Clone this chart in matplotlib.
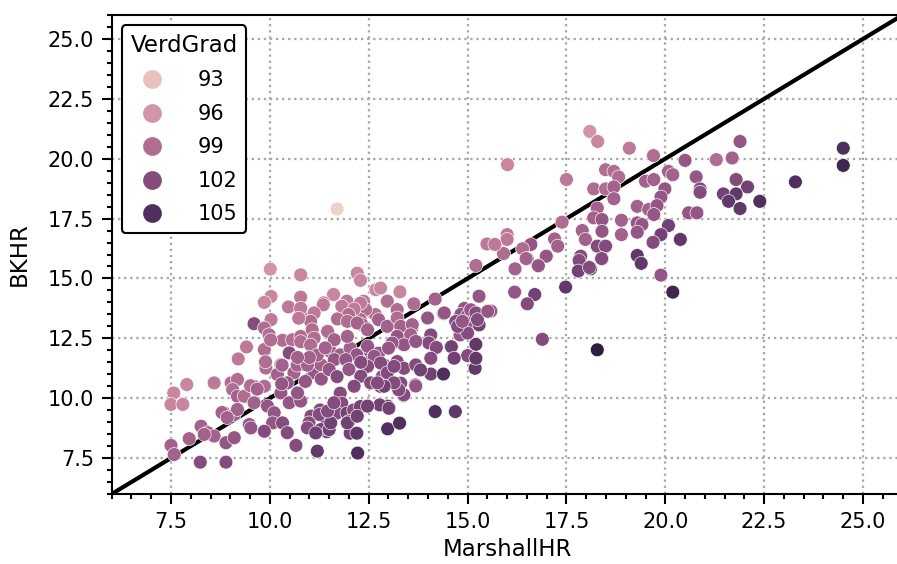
import numpy as np
import matplotlib
matplotlib.use("Agg")
import matplotlib.pyplot as plt
from matplotlib.lines import Line2D
from matplotlib.ticker import MultipleLocator, AutoMinorLocator
import seaborn as sns

# points: (MarshallHR, BKHR, VerdGrad)
pts = [
    (11.7, 17.9, 92),
    (18.09, 21.14, 96), (18.29, 20.72, 97), (19.09, 20.44, 98), (16.01, 19.75, 97), (19.70, 20.13, 99),
    (21.89, 20.72, 101), (21.29, 19.96, 99), (21.69, 20.03, 100), (20.50, 19.93, 101), (17.50, 19.13, 98),
    (18.49, 19.54, 99), (18.70, 19.47, 99), (18.82, 19.24, 99), (18.19, 18.74, 99), (18.49, 18.74, 99),
    (18.70, 18.82, 100), (18.70, 18.33, 100), (20.08, 19.47, 100), (20.19, 19.33, 100), (19.50, 19.06, 100),
    (19.71, 19.13, 100), (20.78, 19.24, 101), (19.99, 18.74, 101), (19.89, 18.40, 101), (20.88, 18.74, 102),
    (20.88, 18.60, 102), (21.79, 19.13, 102), (22.08, 18.82, 103), (21.47, 18.53, 103), (21.79, 18.53, 104),
    (21.60, 18.22, 104), (21.89, 17.92, 104), (22.39, 18.22, 105), (23.29, 19.03, 105), (24.50, 20.44, 105),
    (24.50, 19.72, 106), (19.29, 18.01, 100), (19.58, 17.88, 100), (19.79, 18.04, 101), (19.71, 17.67, 101),
    (20.59, 17.74, 101), (20.80, 17.74, 101), (19.29, 17.32, 101), (19.41, 17.25, 101), (19.29, 16.93, 101),
    (18.89, 17.43, 100), (18.89, 16.83, 100), (20.08, 17.21, 103), (19.89, 16.83, 103), (20.38, 16.63, 104),
    (19.69, 16.51, 102), (19.29, 15.96, 104), (19.39, 15.63, 104), (19.89, 15.14, 101), (20.19, 14.43, 106),
    (18.28, 17.94, 100), (18.19, 17.53, 100), (18.40, 17.46, 101), (18.40, 16.97, 101), (17.90, 17.00, 100),
    (17.98, 16.63, 100), (18.28, 16.35, 102), (18.49, 16.35, 102), (18.40, 15.82, 102), (17.86, 15.93, 102),
    (17.82, 15.75, 102), (17.80, 15.31, 103), (18.11, 15.40, 103), (17.39, 17.35, 99), (17.20, 16.65, 100),
    (17.28, 16.35, 100), (16.99, 15.93, 101), (16.78, 15.54, 101), (16.60, 16.42, 101), (16.39, 16.24, 99),
    (16.51, 15.82, 100), (15.91, 16.04, 99), (16.00, 16.83, 98), (16.00, 16.63, 98), (15.49, 16.44, 98),
    (15.69, 16.42, 98), (15.21, 15.54, 99), (16.20, 15.40, 100), (16.19, 14.43, 101), (16.70, 14.33, 103),
    (16.51, 13.94, 102), (17.48, 14.64, 104), (15.59, 13.64, 101), (15.29, 14.26, 101), (16.89, 12.46, 102),
    (18.28, 12.02, 107), (15.21, 12.25, 104), (16.48, 15.83, 100), (16.79, 15.53, 101), (18.08, 15.46, 102),
    (18.39, 15.83, 102),
    (14.92, 13.75, 101), (14.83, 13.50, 101), (14.70, 13.20, 102), (14.90, 13.10, 101), (15.08, 13.15, 102),
    (15.00, 13.45, 101), (15.29, 13.06, 103), (15.00, 11.78, 102), (15.19, 11.25, 104), (14.81, 12.64, 101),
    (14.59, 12.15, 103), (14.18, 14.14, 100), (14.39, 13.54, 102), (13.99, 13.35, 101), (13.59, 12.93, 101),
    (14.07, 12.64, 102), (14.02, 12.31, 102), (14.21, 12.12, 102), (14.07, 11.67, 102), (14.07, 11.01, 103),
    (14.39, 11.01, 105), (13.68, 10.56, 102), (14.18, 9.44, 105), (14.69, 9.44, 104), (12.98, 8.72, 105),
    (13.28, 8.96, 105), (12.98, 9.67, 103), (13.38, 10.11, 102), (15.08, 13.69, 101), (15.21, 13.56, 102),
    (15.00, 12.72, 102),
    (13.29, 14.44, 97), (12.97, 14.05, 99), (13.22, 13.70, 99), (13.64, 13.94, 99), (12.67, 13.49, 99),
    (12.75, 13.28, 100), (12.97, 13.00, 100), (13.22, 13.35, 99), (13.31, 13.00, 100), (12.37, 14.05, 98),
    (12.42, 13.70, 99), (12.29, 13.28, 99), (12.33, 13.07, 100), (11.95, 14.05, 98), (11.82, 13.84, 98),
    (11.61, 14.33, 97), (11.36, 13.98, 98), (14.41, 13.56, 101), (13.60, 13.07, 100), (13.56, 12.65, 100),
    (13.22, 12.58, 101), (13.39, 12.23, 101), (13.09, 12.30, 101), (13.69, 12.37, 101), (14.75, 13.00, 102),
    (14.87, 13.21, 101), (15.25, 13.28, 102), (15.51, 13.63, 101), (14.66, 11.67, 103), (15.21, 11.67, 104),
    (11.53, 11.95, 100), (11.78, 11.81, 100), (12.03, 12.09, 100), (12.20, 11.81, 101), (12.54, 11.95, 101),
    (12.75, 11.88, 101), (13.00, 12.09, 101), (12.54, 11.53, 102), (12.88, 11.39, 102), (13.22, 11.53, 102),
    (13.39, 11.25, 102), (13.69, 11.39, 102), (13.81, 11.18, 103),
    (13.69, 10.51, 101), (13.39, 10.14, 102), (13.31, 10.63, 102), (13.26, 10.35, 102), (12.80, 10.49, 102),
    (12.84, 10.90, 101), (13.01, 10.69, 102), (12.78, 9.72, 103), (13.01, 9.58, 103), (12.22, 7.71, 105),
    (11.78, 10.21, 102), (11.82, 9.79, 102), (11.69, 9.38, 102), (11.95, 9.38, 103), (12.12, 9.51, 102),
    (12.29, 9.65, 103), (12.00, 9.03, 103), (12.03, 8.54, 103), (12.20, 8.54, 104), (11.44, 9.10, 103),
    (11.44, 8.60, 103), (11.27, 9.51, 102), (11.20, 7.79, 104),
    (10.01, 15.39, 96), (10.78, 15.15, 97), (12.21, 15.22, 97), (12.29, 14.92, 97), (10.03, 14.25, 97),
    (9.86, 14.00, 97), (10.47, 13.81, 98), (10.78, 14.22, 98), (10.78, 13.56, 98), (11.35, 13.90, 98),
    (12.29, 13.97, 98), (12.13, 13.72, 98), (11.99, 13.49, 99), (12.68, 14.53, 97), (12.80, 14.60, 97),
    (9.60, 13.11, 102), (10.03, 13.28, 98), (9.86, 12.93, 99), (9.98, 12.65, 99), (10.32, 12.42, 99),
    (10.57, 12.44, 99), (10.78, 12.58, 99), (11.12, 13.56, 98), (11.03, 13.21, 99), (11.07, 12.86, 99),
    (11.12, 12.51, 99), (11.71, 13.31, 99), (11.46, 12.79, 99), (11.63, 12.44, 100), (11.96, 12.58, 100),
    (11.96, 13.21, 99), (12.21, 13.14, 100), (12.47, 12.86, 100), (9.41, 12.14, 98), (9.20, 11.64, 98),
    (9.86, 12.03, 99), (9.90, 11.26, 99), (10.49, 11.89, 102), (10.28, 11.40, 100), (10.19, 10.99, 100),
    (10.61, 11.06, 100), (10.44, 10.64, 101), (10.86, 11.40, 100), (11.12, 11.06, 101), (11.29, 11.40, 100),
    (11.63, 11.61, 101), (11.92, 11.61, 101), (12.47, 12.17, 101), (12.64, 11.75, 101), (12.80, 11.47, 102),
    (12.47, 11.33, 102), (12.30, 10.92, 102), (12.13, 10.50, 102), (12.55, 10.64, 102), (12.97, 11.06, 102),
    (13.14, 11.33, 102), (13.14, 10.64, 102), (12.89, 10.50, 103),
    (7.90, 10.57, 97), (7.57, 10.22, 97), (7.50, 9.74, 97), (7.80, 9.74, 97), (8.59, 10.64, 98),
    (9.02, 10.64, 99), (9.18, 10.78, 99), (9.06, 10.36, 99), (9.18, 10.08, 100), (9.35, 10.08, 99),
    (8.84, 9.39, 100), (9.10, 9.32, 100), (9.18, 9.53, 100), (9.60, 10.50, 99), (9.86, 10.50, 99),
    (9.60, 9.81, 100), (9.48, 8.90, 101), (9.52, 8.76, 101), (9.94, 9.67, 101), (10.11, 9.39, 101),
    (10.07, 8.97, 101), (10.28, 10.22, 101), (10.49, 9.81, 101), (10.78, 9.88, 101), (10.70, 10.22, 101),
    (10.32, 8.97, 102), (10.44, 8.56, 102), (9.86, 8.62, 102), (10.66, 8.03, 102), (8.26, 8.83, 100),
    (8.43, 8.56, 100), (8.59, 8.42, 100), (8.34, 8.49, 100), (7.96, 8.31, 100), (7.50, 8.03, 100),
    (7.58, 7.65, 100), (8.24, 7.33, 102), (8.89, 7.33, 102), (8.89, 8.14, 101), (9.10, 8.35, 101),
    (11.04, 9.25, 102), (11.25, 9.32, 102), (10.99, 8.97, 102), (11.29, 8.69, 103), (11.50, 8.69, 103),
    (11.54, 8.97, 103), (11.46, 9.46, 102), (11.62, 9.81, 102), (11.96, 8.97, 103), (12.21, 9.25, 103),
    (12.47, 9.67, 103), (12.72, 10.64, 102), (10.95, 8.76, 102), (11.16, 8.55, 103),
    (9.51, 10.52, 99), (9.68, 10.38, 100), (8.79, 9.40, 100), (8.92, 9.19, 100),
    (10.78, 13.76, 98), (10.73, 13.34, 98), (10.02, 12.43, 99), (10.78, 12.36, 99), (11.03, 12.22, 99),
    (9.89, 11.52, 99), (10.31, 11.38, 100), (10.69, 11.38, 100), (10.95, 11.38, 100), (11.20, 11.80, 100),
    (10.90, 10.70, 101), (11.30, 10.80, 101), (11.50, 11.20, 101), (11.00, 11.70, 100), (11.70, 10.90, 102),
    (12.00, 11.20, 101), (10.70, 11.70, 100), (11.40, 12.10, 100), (10.30, 10.60, 101), (12.30, 11.50, 102),
]
marshall = [p[0] for p in pts]
bkhr = [p[1] for p in pts]
verdgrad = [p[2] for p in pts]
legend_levels = [93, 96, 99, 102, 105]

cmap = sns.cubehelix_palette(as_cmap=True)
norm = plt.Normalize(min(verdgrad), max(verdgrad))

fig = plt.figure(figsize=(5.98, 3.76), dpi=150)
ax = fig.add_axes([0.1245, 0.1241, 0.8817, 0.8493])

ax.axline((0, 0), slope=1, color="black", linewidth=2, zorder=2)
ax.scatter(marshall, bkhr, c=verdgrad, cmap=cmap, norm=norm, s=44,
           edgecolors="white", linewidths=0.3, zorder=3)

ax.set_xlim(6, 26)
ax.set_ylim(6, 26)
ax.xaxis.set_major_locator(MultipleLocator(2.5))
ax.yaxis.set_major_locator(MultipleLocator(2.5))
ax.xaxis.set_minor_locator(AutoMinorLocator(5))
ax.yaxis.set_minor_locator(AutoMinorLocator(5))
ax.tick_params(which="major", length=5, width=1)
ax.tick_params(which="minor", length=2.5, width=1)
ax.grid(True, which="major", linestyle=":", color="#a8a8a8", linewidth=1.1)
ax.set_axisbelow(True)
for s in ax.spines.values():
    s.set_linewidth(1)

ax.set_xlabel("MarshallHR", fontsize=11, labelpad=3)
ax.set_ylabel("BKHR", fontsize=11, labelpad=8)

handles = [Line2D([], [], marker="o", linestyle="", markersize=8,
                  markerfacecolor=cmap(norm(v)), markeredgecolor=cmap(norm(v)))
           for v in legend_levels]
leg = ax.legend(handles, [str(v) for v in legend_levels], title="VerdGrad",
                title_fontsize=11, loc="upper left", framealpha=1, edgecolor="black",
                labelspacing=0.65, handletextpad=1.2)
leg.get_frame().set_linewidth(1)

fig.savefig("out.png", dpi=150)
